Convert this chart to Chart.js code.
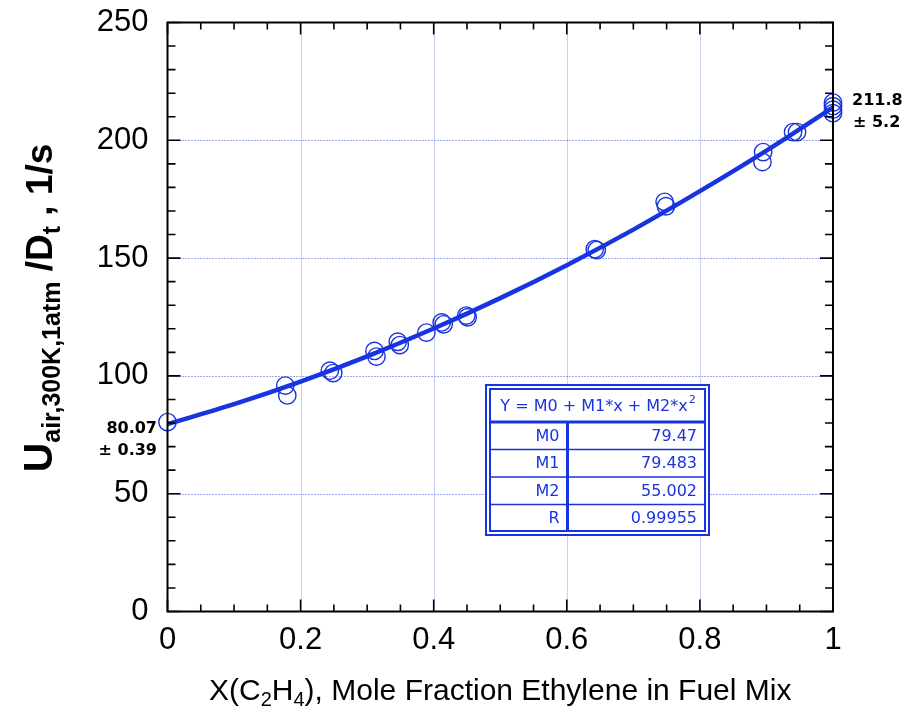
<!DOCTYPE html>
<html>
<head>
<meta charset="utf-8">
<script src="https://cdn.jsdelivr.net/npm/chart.js@4.4.1/dist/chart.umd.min.js"></script>
<style>
html,body{margin:0;padding:0;background:#fff;}
#wrap{width:905px;height:713px;position:relative;}
</style>
</head>
<body>
<div id="wrap"><canvas id="c" width="905" height="713"></canvas></div>
<script>
// ---- data ----
const pointX = [0, 0.177, 0.180, 0.244, 0.249, 0.311, 0.314, 0.346, 0.349, 0.389, 0.412, 0.415, 0.449, 0.451,
                0.642, 0.645, 0.747, 0.749, 0.894, 0.895, 0.940, 0.946, 1, 1, 1, 1];
const pointY = [80.4, 95.9, 91.7, 102.2, 101.2, 110.6, 108.2, 114.5, 113.1, 118.4, 122.7, 121.9, 125.6, 124.9,
                153.8, 153.4, 173.9, 172.0, 190.8, 195.0, 203.5, 203.5, 216.0, 214.5, 213.0, 211.5];
const curveX = [0, 0.1, 0.2, 0.3, 0.4, 0.5, 0.6, 0.7, 0.8, 0.9, 1.0];
const curveY = [79.5, 88.0, 97.6, 108.3, 120.1, 133.0, 147.0, 162.1, 178.4, 195.6, 214.0];
const xTicks = [0, 0.2, 0.4, 0.6, 0.8, 1];
const xTickLabels = ['0', '0.2', '0.4', '0.6', '0.8', '1'];
const yTicks = [0, 50, 100, 150, 200, 250];
const yTickLabels = ['0', '50', '100', '150', '200', '250'];
const fitHeader = 'Y = M0 + M1*x + M2*x';
const fitNames = ['M0', 'M1', 'M2', 'R'];
const fitValues = ['79.47', '79.483', '55.002', '0.99955'];
const leftNote = ['80.07', '± 0.39'];
const rightNote = ['211.8', '± 5.2'];

const BLUE = '#1833e0';

const framePlugin = {
  id: 'frame',
  beforeDatasetsDraw(chart) {
    const {ctx, chartArea: a, scales: {x, y}} = chart;
    ctx.save();
    ctx.strokeStyle = '#c9d0f6';
    ctx.lineWidth = 1;
    [0.2, 0.4, 0.6, 0.8].forEach(v => {
      const px = Math.round(x.getPixelForValue(v)) + 0.5;
      ctx.beginPath(); ctx.moveTo(px, a.top); ctx.lineTo(px, a.bottom); ctx.stroke();
    });
    ctx.strokeStyle = '#3a52e8';
    ctx.setLineDash([1, 2]);
    [50, 100, 150, 200].forEach(v => {
      const py = Math.round(y.getPixelForValue(v)) + 0.5;
      ctx.beginPath(); ctx.moveTo(a.left, py); ctx.lineTo(a.right, py); ctx.stroke();
    });
    ctx.restore();
  },
  afterDatasetsDraw(chart) {
    const {ctx, chartArea: a, scales: {x, y}} = chart;
    ctx.save();
    ctx.strokeStyle = '#000';
    ctx.lineWidth = 2;
    ctx.strokeRect(a.left, a.top, a.right - a.left, a.bottom - a.top);
    ctx.lineWidth = 1.6;
    for (let i = 0; i <= 20; i++) {
      const px = x.getPixelForValue(i * 0.05);
      const len = (i % 4 === 0) ? 12 : 7;
      ctx.beginPath();
      ctx.moveTo(px, a.bottom); ctx.lineTo(px, a.bottom - len);
      ctx.moveTo(px, a.top); ctx.lineTo(px, a.top + len);
      ctx.stroke();
    }
    for (let i = 0; i <= 25; i++) {
      const py = y.getPixelForValue(i * 10);
      const len = (i % 5 === 0) ? 13 : 8;
      ctx.beginPath();
      ctx.moveTo(a.left, py); ctx.lineTo(a.left + len, py);
      ctx.moveTo(a.right, py); ctx.lineTo(a.right - len, py);
      ctx.stroke();
    }
    ctx.restore();
  },
  afterDraw(chart) {
    const {ctx, chartArea: a} = chart;
    ctx.save();
    // ---- y title (rotated) ----
    const parts = [
      {t: 'U', f: 'bold 41px "Liberation Sans", Arial, sans-serif', dy: 0},
      {t: 'air,300K,1atm', f: 'bold 25px "Liberation Sans", Arial, sans-serif', dy: 8},
      {t: ' /D', f: 'bold 37px "Liberation Sans", Arial, sans-serif', dy: 0},
      {t: 't', f: 'bold 25px "Liberation Sans", Arial, sans-serif', dy: 8},
      {t: ' , 1/s', f: 'bold 37px "Liberation Sans", Arial, sans-serif', dy: 0}
    ];
    let total = 0;
    parts.forEach(p => { ctx.font = p.f; p.w = ctx.measureText(p.t).width; total += p.w; });
    ctx.translate(52, 308);
    ctx.rotate(-Math.PI / 2);
    ctx.fillStyle = '#000';
    ctx.textBaseline = 'alphabetic';
    let cx = -total / 2;
    parts.forEach(p => { ctx.font = p.f; ctx.fillText(p.t, cx, p.dy); cx += p.w; });
    ctx.setTransform(1, 0, 0, 1, 0, 0);

    // ---- x title ----
    const xp = [
      {t: 'X(C', s: 0}, {t: '2', s: 1}, {t: 'H', s: 0}, {t: '4', s: 1},
      {t: '), Mole Fraction Ethylene in Fuel Mix', s: 0}
    ];
    const fMain = '30px "Liberation Sans", Arial, sans-serif';
    const fSub = '20px "Liberation Sans", Arial, sans-serif';
    let tw = 0;
    xp.forEach(p => { ctx.font = p.s ? fSub : fMain; p.w = ctx.measureText(p.t).width; tw += p.w; });
    let sx = (a.left + a.right) / 2 - tw / 2;
    ctx.fillStyle = '#000';
    xp.forEach(p => { ctx.font = p.s ? fSub : fMain; ctx.fillText(p.t, sx, p.s ? 706 : 700); sx += p.w; });

    // ---- notes ----
    ctx.font = 'bold 16px "DejaVu Sans", sans-serif';
    ctx.textAlign = 'right';
    ctx.fillText(leftNote[0], 157, 433);
    ctx.fillText(leftNote[1], 157, 455);
    ctx.textAlign = 'left';
    ctx.fillText(rightNote[0], 852, 105);
    ctx.fillText(rightNote[1], 853, 127);

    // ---- fit table ----
    const L = 485, R = 710, T = 384, B = 536;
    ctx.strokeStyle = BLUE;
    ctx.fillStyle = '#fff';
    ctx.fillRect(L, T, R - L, B - T);
    ctx.lineWidth = 2;
    ctx.strokeRect(L + 1, T + 1, R - L - 2, B - T - 2);
    ctx.strokeRect(L + 5, T + 5, R - L - 10, B - T - 10);
    const iL = L + 5, iR = R - 5, iT = T + 5, iB = B - 5;
    const hdrB = 422;
    const rows = [hdrB, 449.5, 477, 504.5, iB];
    const colX = 567.5;
    ctx.lineWidth = 3;
    ctx.beginPath(); ctx.moveTo(iL, hdrB); ctx.lineTo(iR, hdrB); ctx.stroke();
    ctx.beginPath(); ctx.moveTo(colX, hdrB); ctx.lineTo(colX, iB); ctx.stroke();
    ctx.lineWidth = 1.5;
    for (let i = 1; i < 4; i++) {
      ctx.beginPath(); ctx.moveTo(iL, rows[i]); ctx.lineTo(iR, rows[i]); ctx.stroke();
    }
    ctx.fillStyle = BLUE;
    ctx.font = '16px "DejaVu Sans", sans-serif';
    ctx.textBaseline = 'middle';
    ctx.textAlign = 'left';
    const hw = ctx.measureText(fitHeader).width;
    ctx.font = '11px "DejaVu Sans", sans-serif';
    const sw = ctx.measureText('2').width;
    let hx = (iL + iR) / 2 - (hw + sw) / 2;
    ctx.font = '16px "DejaVu Sans", sans-serif';
    ctx.fillText(fitHeader, hx, (iT + hdrB) / 2 + 1);
    ctx.font = '11px "DejaVu Sans", sans-serif';
    ctx.fillText('2', hx + hw + 1, (iT + hdrB) / 2 - 5);
    ctx.font = '16px "DejaVu Sans", sans-serif';
    ctx.textAlign = 'right';
    for (let i = 0; i < 4; i++) {
      const cy = (rows[i] + rows[i + 1]) / 2 + 1;
      ctx.fillText(fitNames[i], colX - 8, cy);
      ctx.fillText(fitValues[i], iR - 8, cy);
    }
    ctx.restore();
  }
};

const ctx = document.getElementById('c').getContext('2d');
new Chart(ctx, {
  type: 'scatter',
  data: {
    datasets: [
      {
        label: 'fit',
        type: 'line',
        data: curveX.map((v, i) => ({x: v, y: curveY[i]})),
        borderColor: BLUE,
        borderWidth: 4.5,
        pointRadius: 0,
        cubicInterpolationMode: 'monotone',
        fill: false,
        order: 1
      },
      {
        label: 'data',
        data: pointX.map((v, i) => ({x: v, y: pointY[i]})),
        borderColor: BLUE,
        backgroundColor: 'rgba(0,0,0,0)',
        pointRadius: 8.7,
        pointBorderWidth: 1.4,
        order: 2
      }
    ]
  },
  options: {
    responsive: false,
    animation: false,
    clip: false,
    layout: {padding: {left: 0, right: 72, top: 22.5, bottom: 0}},
    plugins: {legend: {display: false}, tooltip: {enabled: false}},
    scales: {
      x: {
        type: 'linear', min: 0, max: 1,
        afterBuildTicks: s => { s.ticks = xTicks.map(v => ({value: v})); },
        afterFit: s => { s.height = 101.5; s.paddingLeft = 0; s.paddingRight = 0; },
        grid: {display: false, drawTicks: false},
        border: {display: false},
        ticks: {
          color: '#000', font: {family: '"Liberation Sans", Arial, sans-serif', size: 31},
          padding: 10, maxRotation: 0, autoSkip: false,
          callback: (v) => xTickLabels[xTicks.indexOf(v)]
        }
      },
      y: {
        type: 'linear', min: 0, max: 250,
        afterBuildTicks: s => { s.ticks = yTicks.map(v => ({value: v})); },
        afterFit: s => { s.width = 167.5; s.paddingTop = 0; s.paddingBottom = 0; },
        grid: {display: false, drawTicks: false},
        border: {display: false},
        ticks: {
          color: '#000', font: {family: '"Liberation Sans", Arial, sans-serif', size: 31},
          padding: 19, autoSkip: false,
          callback: (v) => yTickLabels[yTicks.indexOf(v)]
        }
      }
    }
  },
  plugins: [framePlugin]
});
</script>
</body>
</html>
